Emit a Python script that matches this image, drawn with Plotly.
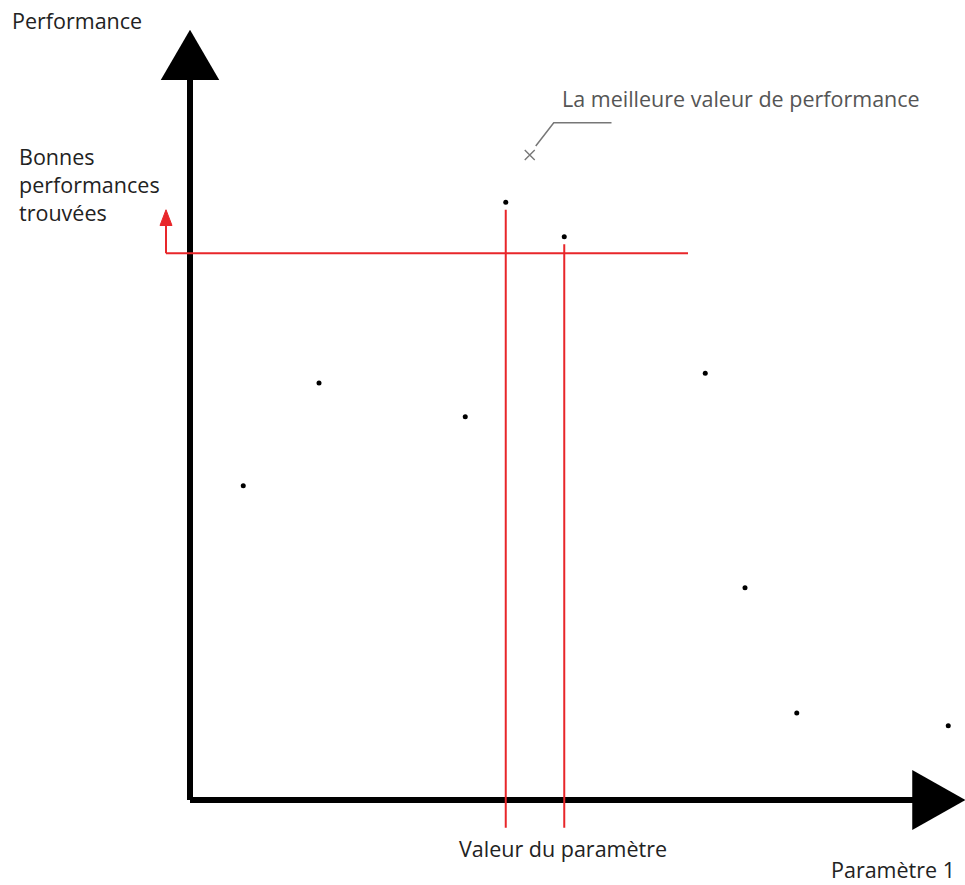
import plotly.graph_objects as go

# Data (abstract units: parameter vs performance)
param = [0.71, 1.72, 3.67, 4.21, 4.99, 6.87, 7.40, 8.09, 10.11]
perf = [4.19, 5.56, 5.11, 7.97, 7.51, 5.69, 2.83, 1.16, 0.99]
best_param = [4.53]
best_perf = [8.60]
threshold = 7.29
good_params = [4.21, 4.99]
good_perfs = [7.97, 7.51]

FONT = "Open Sans"
RED = "#e8262a"
FS = 21.5

fig = go.Figure()

# points
fig.add_trace(go.Scatter(x=param, y=perf, mode="markers",
                         marker=dict(color="black", size=5), hoverinfo="skip"))
fig.add_trace(go.Scatter(x=best_param, y=best_perf, mode="markers",
                         marker=dict(symbol="x-thin", color="#777777", size=10,
                                     line=dict(color="#777777", width=1.4)),
                         hoverinfo="skip"))

shapes = []
# axes
shapes.append(dict(type="line", x0=0, y0=0, x1=0, y1=9.65, line=dict(color="black", width=6)))
shapes.append(dict(type="line", x0=0, y0=0, x1=9.65, y1=0, line=dict(color="black", width=6)))
shapes.append(dict(type="path", path="M 0 10.27 L -0.39 9.6 L 0.39 9.6 Z",
                   fillcolor="black", line=dict(width=0)))
shapes.append(dict(type="path", path="M 10.34 0 L 9.63 0.4 L 9.63 -0.4 Z",
                   fillcolor="black", line=dict(width=0)))

# threshold line
shapes.append(dict(type="line", x0=-0.32, y0=threshold, x1=6.64, y1=threshold,
                   line=dict(color=RED, width=2)))
shapes.append(dict(type="line", x0=-0.32, y0=threshold, x1=-0.32, y1=7.7,
                   line=dict(color=RED, width=2)))
shapes.append(dict(type="path", path="M -0.32 7.87 L -0.40 7.66 L -0.24 7.66 Z",
                   fillcolor=RED, line=dict(color=RED, width=1)))

# vertical lines for good parameters
for gp, gv in zip(good_params, good_perfs):
    shapes.append(dict(type="line", x0=gp, y0=gv - 0.1, x1=gp, y1=-0.37,
                       line=dict(color=RED, width=2)))

# leader line for best value
bx, by = best_param[0], best_perf[0]
shapes.append(dict(type="path",
                   path=f"M {bx+0.08} {by+0.12} L {bx+0.32} {by+0.43} L {bx+1.09} {by+0.43}",
                   line=dict(color="#777777", width=1.5)))

fig.update_layout(shapes=shapes)

annots = [
    dict(x=-2.40, y=10.40, text="Performance", xanchor="left", yanchor="middle",
         font=dict(size=FS, color="#222222", family=FONT)),
    dict(x=-2.31, y=8.21, text="Bonnes<br>performances<br>trouvées", xanchor="left",
         yanchor="middle", align="left",
         font=dict(size=FS, color="#222222", family=FONT)),
    dict(x=4.93, y=9.35, text="La meilleure valeur de performance", xanchor="left",
         yanchor="middle", font=dict(size=FS, color="#555555", family=FONT)),
    dict(x=4.97, y=-0.64, text="Valeur du paramètre", xanchor="center",
         yanchor="middle", font=dict(size=FS, color="#222222", family=FONT)),
    dict(x=10.22, y=-0.92, text="Paramètre 1", xanchor="right",
         yanchor="middle", font=dict(size=FS, color="#222222", family=FONT)),
]
for a in annots:
    a.update(xref="x", yref="y", showarrow=False)
fig.update_layout(annotations=annots)

fig.update_layout(
    width=965, height=885,
    margin=dict(l=0, r=0, t=0, b=0),
    paper_bgcolor="white", plot_bgcolor="white",
    showlegend=False,
    xaxis=dict(range=[-190/75, 775/75], visible=False, fixedrange=True),
    yaxis=dict(range=[-85/75, 800/75], visible=False, fixedrange=True),
)

fig.write_html("out.html",
               config={"displayModeBar": False},
               post_script="document.body.style.margin='0';document.body.style.overflow='hidden';")
